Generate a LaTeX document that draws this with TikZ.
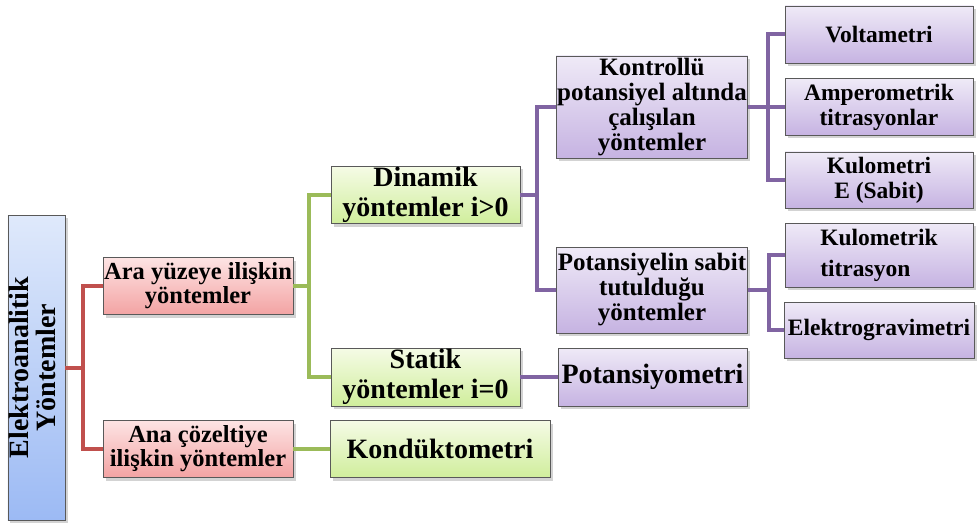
\documentclass[tikz,border=0pt]{standalone}
\usepackage{fontspec}
\setmainfont{Liberation Serif}
\usetikzlibrary{shadows}
\definecolor{redlink}{HTML}{C0504D}
\definecolor{greenlink}{HTML}{9BBB59}
\definecolor{purplelink}{HTML}{8064A2}
\definecolor{bluetop}{HTML}{DFE9FB}
\definecolor{bluebot}{HTML}{9CBAF4}
\definecolor{redtop}{HTML}{FDE4E4}
\definecolor{redbot}{HTML}{F3A3A3}
\definecolor{greentop}{HTML}{F5FBE6}
\definecolor{greenbot}{HTML}{D0EE9C}
\definecolor{purpletop}{HTML}{EFEAF7}
\definecolor{purplebot}{HTML}{C6B3E2}
\tikzset{
  box/.style={draw=black!65, line width=0.9pt, align=center, inner sep=1pt,
    font=\bfseries, drop shadow={opacity=0.35, shadow xshift=2.5pt, shadow yshift=-3pt}},
  bluebox/.style={box, top color=bluetop, bottom color=bluebot},
  redbox/.style={box, top color=redtop, bottom color=redbot, minimum width=190, minimum height=57,
    font=\bfseries\fontsize{24.5}{24}\selectfont},
  greenbox/.style={box, top color=greentop, bottom color=greenbot,
    font=\bfseries\fontsize{28}{30}\selectfont},
  purplebox/.style={box, top color=purpletop, bottom color=purplebot},
  leafbox/.style={purplebox, minimum width=188, minimum height=57,
    font=\bfseries\fontsize{23.5}{25}\selectfont},
  midbox/.style={purplebox, minimum width=190,
    font=\bfseries\fontsize{25}{25}\selectfont},
  link/.style={line width=4pt},
}
\begin{document}
\begin{tikzpicture}[x=1pt,y=-1pt]
  \useasboundingbox (0,0) rectangle (980,524);
  % boxes
  \node[bluebox, minimum width=57, minimum height=305] (root) at (36.5,367.5)
    {\rotatebox{90}{\fontsize{28}{27}\selectfont\begin{tabular}{@{}c@{}}Elektroanalitik\\Yöntemler\end{tabular}}};
  \node[redbox] (ara) at (198,286) {Ara yüzeye ilişkin\\yöntemler};
  \node[redbox] (ana) at (198,449) {Ana çözeltiye\\ilişkin yöntemler};
  \node[greenbox, minimum width=189, minimum height=56] (dinamik) at (425.5,195) {Dinamik\\yöntemler i>0};
  \node[greenbox, minimum width=189, minimum height=58] (statik) at (425.5,377) {Statik\\yöntemler i=0};
  \node[greenbox, minimum width=220, minimum height=57] (kondukto) at (440,449) {Kondüktometri};
  \node[midbox, minimum height=102] (kontrol) at (652,107) {Kontrollü\\potansiyel altında\\çalışılan\\yöntemler};
  \node[midbox, minimum height=86] (sabit) at (652,290) {Potansiyelin sabit\\tutulduğu\\yöntemler};
  \node[purplebox, minimum width=189, minimum height=58, font=\bfseries\fontsize{28}{30}\selectfont] (potansiyo) at (652.5,377) {Potansiyometri};
  \node[leafbox] (volta) at (879,34.5) {Voltametri};
  \node[leafbox] (ampero) at (879,107) {Amperometrik\\titrasyonlar};
  \node[leafbox, minimum height=56] (kulomE) at (879,180) {Kulometri\\E (Sabit)};
  \node[leafbox, minimum height=64, align=left] (kulomtit) at (879,255) {Kulometrik\\[6pt]titrasyon};
  \node[leafbox, minimum width=190, minimum height=56] (gravi) at (879,330) {Elektrogravimetri};
  % links
  \begin{scope}[link, redlink]
    \draw (root.east) -- ++(18,0) |- (ara.west);
    \draw (root.east) -- ++(18,0) |- (ana.west);
  \end{scope}
  \begin{scope}[link, greenlink]
    \draw (ara.east) -- ++(16,0) |- (dinamik.west);
    \draw (ara.east) -- ++(16,0) |- (statik.west);
    \draw (ana.east) -- (kondukto.west);
  \end{scope}
  \begin{scope}[link, purplelink]
    \draw (dinamik.east) -- ++(17,0) |- (kontrol.west);
    \draw (dinamik.east) -- ++(17,0) |- (sabit.west);
    \draw (statik.east) -- (potansiyo.west);
    \draw (kontrol.east) -- ++(20,0) |- (volta.west);
    \draw (kontrol.east) -- (ampero.west);
    \draw (kontrol.east) -- ++(20,0) |- (kulomE.west);
    \draw (sabit.east) -- ++(21,0) |- (kulomtit.west);
    \draw (sabit.east) -- ++(21,0) |- (gravi.west);
  \end{scope}
\end{tikzpicture}
\end{document}
